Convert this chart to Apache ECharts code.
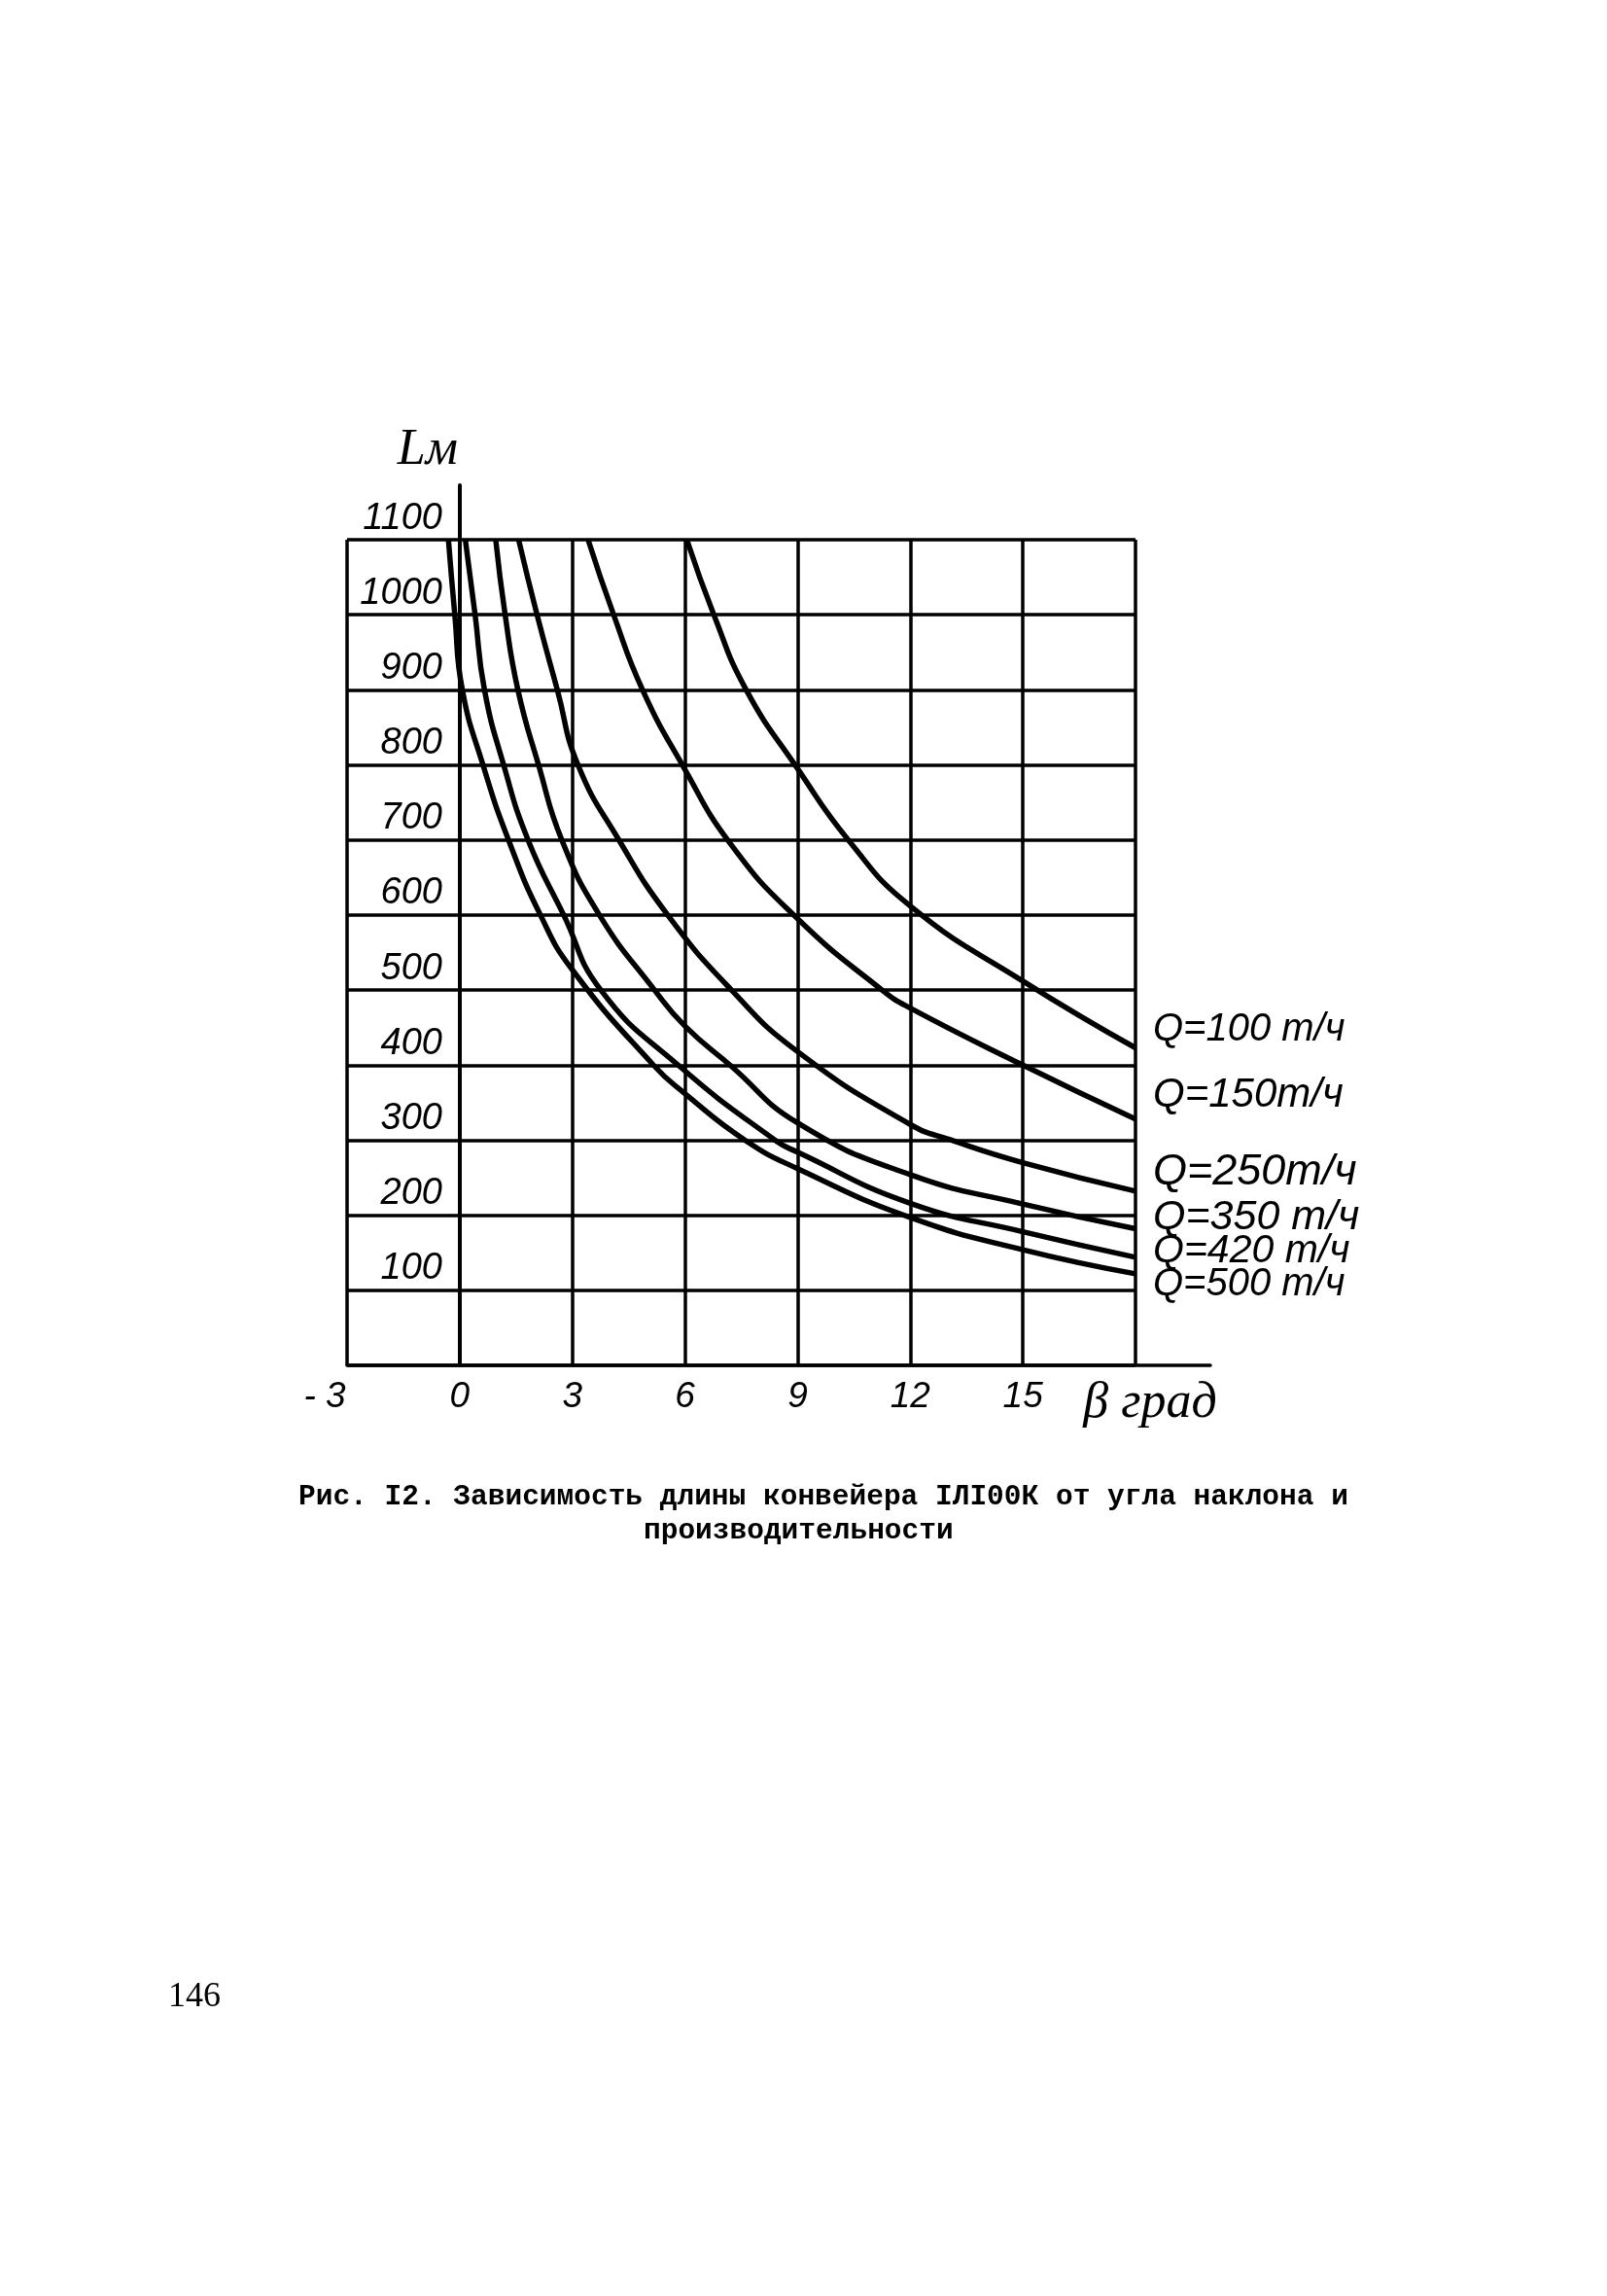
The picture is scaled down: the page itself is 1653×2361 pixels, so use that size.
<!DOCTYPE html>
<html><head><meta charset="utf-8">
<script src="https://cdn.jsdelivr.net/npm/echarts@6/dist/echarts.min.js"></script>
<style>html,body{margin:0;padding:0;background:#fff}#c{width:1653px;height:2361px}</style>
</head><body><div id="c"></div>
<script>
// ---- data ----
const xTickLabels = ['- 3', '0', '3', '6', '9', '12', '15'];
const yTickValues = [100, 200, 300, 400, 500, 600, 700, 800, 900, 1000, 1100];
const seriesNames = ['Q=100 т/ч', 'Q=150т/ч', 'Q=250т/ч', 'Q=350 т/ч', 'Q=420 т/ч', 'Q=500 т/ч'];
const q100 = [[6.05,1100],[6.77,1000],[7.63,900],[9,795],[10.35,700],[12,612],[15,512],[18,423]];
const q150 = [[3.42,1100],[4.1,1000],[4.87,900],[5.93,800],[7.24,693],[9,595],[11.25,500],[12,476],[15,400],[18,328]];
const q250 = [[1.57,1100],[2.06,1000],[2.6,900],[3.15,800],[4.24,700],[5.54,600],[7.24,500],[9,418],[12,321],[13.1,300],[15,270],[18,232]];
const q350 = [[0.96,1100],[1.21,1000],[1.55,900],[2.1,800],[2.72,700],[3.72,600],[5.19,500],[6,452],[7.2,400],[9,323],[12,254],[15,215],[18,182]];
const q420 = [[0.15,1100],[0.41,1000],[0.66,900],[1.17,800],[1.82,700],[2.77,600],[3.76,500],[5.82,400],[8.4,300],[9,284],[12,216],[15,178],[18,144]];
const q500 = [[-0.3,1100],[-0.13,1000],[0.07,900],[0.62,800],[1.3,700],[2.15,600],[3,527],[5.16,400],[6,362],[7.6,300],[9,262],[12,197],[15,154],[18,122]];
const captionLine1 = 'Рис. I2. Зависимость длины конвейера IЛI00К от угла наклона и';
const captionLine2 = 'производительности';
const pageNumber = '146';
const xName = 'β град';
const yName = 'Lм';

// ---- styles (not data) ----
const allSeries = [q100, q150, q250, q350, q420, q500];
const labelOffsetY = [-19, -25, -19, -11, -6, 11];
const labelSize = [40, 42, 45, 43, 41, 40];
const handFont = "'Liberation Sans', Arial, sans-serif";
const black = '#000';

const chart = echarts.init(document.getElementById('c'), null, {renderer: 'canvas'});

const series = allSeries.map((d, i) => ({
  name: seriesNames[i],
  type: 'line',
  xAxisIndex: 0,
  yAxisIndex: 0,
  data: d,
  smooth: 0.5,
  symbol: 'none',
  lineStyle: {color: black, width: 5.5},
  endLabel: {
    show: true,
    formatter: seriesNames[i],
    distance: 18,
    offset: [0, labelOffsetY[i]],
    color: black,
    fontStyle: 'italic',
    fontFamily: handFont,
    fontSize: labelSize[i]
  },
  animation: false
}));

const option = {
  backgroundColor: '#fff',
  animation: false,
  title: [
    {text: captionLine1, left: 307, top: 1525, padding: 0,
     textStyle: {fontFamily: "'Liberation Mono', 'DejaVu Sans Mono', monospace", fontSize: 29.5, fontWeight: 'bold', color: black}},
    {text: captionLine2, left: 662, top: 1560, padding: 0,
     textStyle: {fontFamily: "'Liberation Mono', 'DejaVu Sans Mono', monospace", fontSize: 29.5, fontWeight: 'bold', color: black}},
    {text: pageNumber, left: 173, top: 2036, padding: 0,
     textStyle: {fontFamily: "'Liberation Serif', serif", fontSize: 36, fontWeight: 'normal', color: black}}
  ],
  grid: [
    {left: 357, top: 555, width: 811, height: 849, outerBoundsMode: 'none'},
    {left: 357, top: 499, width: 888, height: 905, outerBoundsMode: 'none'},
    {left: 472.9, top: 555, width: 100, height: 849, outerBoundsMode: 'none'}
  ],
  xAxis: [
    {
      type: 'value', gridIndex: 0, min: -3, max: 18, interval: 3,
      axisLine: {show: false, onZero: false},
      axisTick: {show: false},
      splitLine: {show: true, lineStyle: {color: black, width: 3.5}},
      axisLabel: {
        show: true, margin: 14, showMinLabel: true, showMaxLabel: true,
        formatter: function (v) {
          const idx = Math.round((v + 3) / 3);
          if (idx < 0 || idx >= xTickLabels.length) return '';
          return idx === 0 ? '{m|' + xTickLabels[idx] + '}' : '{n|' + xTickLabels[idx] + '}';
        },
        rich: {
          n: {fontFamily: handFont, fontStyle: 'italic', fontSize: 37, color: black},
          m: {fontFamily: handFont, fontStyle: 'italic', fontSize: 37, color: black, padding: [0, 46, 0, 0]}
        }
      }
    },
    {
      type: 'value', gridIndex: 1, min: -3, max: 20,
      axisLine: {show: true, onZero: false, lineStyle: {color: black, width: 3.5}},
      axisTick: {show: false},
      splitLine: {show: false},
      axisLabel: {show: false},
      name: xName,
      nameLocation: 'end',
      nameGap: -62,
      nameTextStyle: {
        fontFamily: "'Liberation Serif', serif", fontStyle: 'italic', fontSize: 52, color: black,
        align: 'center', verticalAlign: 'top', padding: [13, 0, 0, 0]
      }
    },
    {type: 'value', gridIndex: 2, min: 0, max: 1, show: false}
  ],
  yAxis: [
    {
      type: 'value', gridIndex: 0, min: 0, max: 1100, interval: 100,
      axisLine: {show: false},
      axisTick: {show: false},
      splitLine: {show: true, lineStyle: {color: black, width: 3.5}},
      axisLabel: {show: false}
    },
    {
      type: 'value', gridIndex: 1, min: 0, max: 1172.6,
      axisLine: {show: true, onZero: true, lineStyle: {color: black, width: 4}},
      axisTick: {show: false},
      splitLine: {show: false},
      axisLabel: {show: false},
      name: yName,
      nameLocation: 'end',
      nameGap: 10,
      nameTextStyle: {
        fontFamily: "'Liberation Serif', serif", fontStyle: 'italic', fontSize: 52, color: black,
        align: 'center', padding: [0, 66, 0, 0]
      }
    },
    {
      type: 'value', gridIndex: 2, min: 0, max: 1100, interval: 100, position: 'left',
      axisLine: {show: false},
      axisTick: {show: false},
      splitLine: {show: false},
      axisLabel: {
        show: true, margin: 18, showMinLabel: false,
        formatter: function (v) { return yTickValues.indexOf(v) >= 0 ? String(v) : ''; },
        fontFamily: handFont, fontStyle: 'italic', fontSize: 38, color: black,
        verticalAlign: 'bottom', padding: [0, 0, 3, 0]
      }
    }
  ],
  series: series
};
chart.setOption(option);
</script>
</body></html>
